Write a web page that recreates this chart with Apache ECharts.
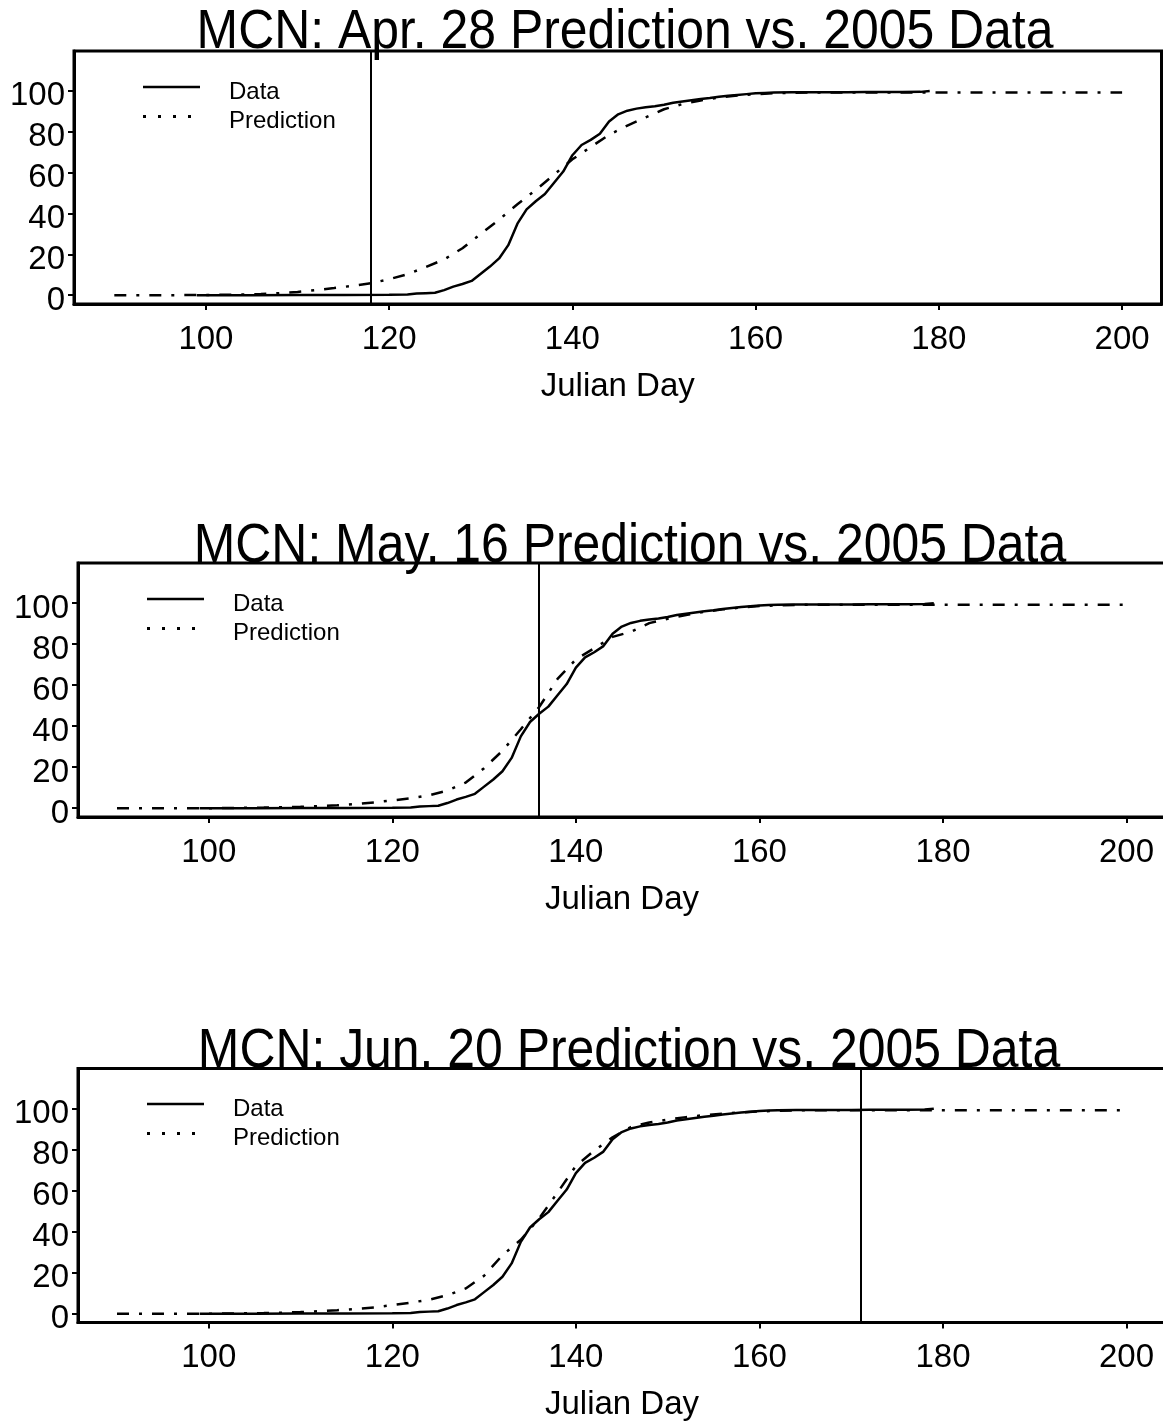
<!DOCTYPE html>
<html>
<head>
<meta charset="utf-8">
<title>MCN predictions vs. 2005 data</title>
<script src="https://cdn.jsdelivr.net/npm/echarts@6/dist/echarts.min.js"></script>
<style>
  html, body { margin: 0; padding: 0; background: #fff; }
  #chart { width: 1163px; height: 1424px; }
</style>
</head>
<body>
<div id="chart"></div>
<script>
// observed 2005 cumulative passage (%), same curve in every panel
const dataDays = [99, 100, 105, 110, 115, 120, 122, 123, 124, 125, 126, 127, 128, 129, 130,
  131, 132, 133, 134, 135, 136, 137, 138, 139, 140, 141, 142, 143, 144, 145, 146, 147, 148,
  149, 150, 151, 152, 153, 154, 155, 156, 157, 158, 159, 160, 161, 162, 164, 166, 168, 170,
  172, 174, 176, 178, 179];
const dataPct = [0, 0, 0, 0.1, 0.1, 0.2, 0.3, 0.8, 1, 1.2, 2.5, 4.2, 5.5, 7, 10.5,
  14, 18, 24.5, 35, 42, 46, 49.5, 55, 60.5, 68.5, 73.5, 76, 79, 85, 88.5, 90.3, 91.3, 92,
  92.5, 93.2, 94.2, 94.8, 95.4, 96, 96.5, 97.1, 97.6, 98, 98.4, 98.8, 99, 99.2, 99.3, 99.3, 99.3, 99.3,
  99.4, 99.4, 99.4, 99.5, 99.9];

// predictions (%), one per forecast date
const predDays = [90, 95, 100, 104, 106, 108, 110, 112, 114, 116, 118, 120, 122, 124, 126,
  128, 130, 132, 134, 136, 138, 140, 142, 144, 146, 148, 150, 152, 154, 156, 158, 160, 162,
  164, 166, 170, 180, 190, 200];
const predApr28 = [0, 0, 0.1, 0.3, 0.6, 1, 1.6, 2.5, 3.5, 4.6, 5.9, 7.8, 10.3, 13.8, 17.5,
  23, 30, 37, 44.5, 51.5, 59, 66.5, 72.5, 78.5, 83, 87, 91, 93.5, 95.3, 96.7, 97.7, 98.4, 98.8,
  99, 99.2, 99.2, 99.2, 99.2, 99.2];
const predMay16 = [0, 0, 0, 0.2, 0.3, 0.5, 0.7, 1, 1.4, 2, 2.8, 3.8, 4.8, 6.3, 8.6,
  12.5, 19.5, 28, 38.5, 49.3, 63, 72.5, 78, 83.5, 86, 90.2, 92.3, 94.2, 95.7, 96.9, 97.8, 98.5, 98.9,
  99.1, 99.2, 99.2, 99.2, 99.2, 99.2];
const predJun20 = [0, 0, 0, 0.2, 0.3, 0.5, 0.8, 1.2, 1.7, 2.3, 3, 4.2, 5.4, 6.8, 9,
  12.3, 18.5, 28.5, 36, 46.5, 59, 72, 79.5, 86, 91, 93.2, 94.6, 95.8, 96.8, 97.5, 98.1, 98.6, 98.9,
  99.1, 99.2, 99.2, 99.2, 99.2, 99.2];

const panelTitles = [
  'MCN: Apr. 28 Prediction vs. 2005 Data',
  'MCN: May. 16 Prediction vs. 2005 Data',
  'MCN: Jun. 20 Prediction vs. 2005 Data'
];
const cutoffDays = [118, 136, 171];
const predictions = [predApr28, predMay16, predJun20];
const xTicks = [100, 120, 140, 160, 180, 200];
const yTicks = [0, 20, 40, 60, 80, 100];

const FONT = "'Liberation Sans', Arial, sans-serif";
const BLACK = '#000';

// legend icons: short bar / four dots in the upper part of the icon box, so the text sits a bit lower
const CORNERS = 'M0,0h0.01v0.01h-0.01zM56.99,13.99h0.01v0.01h-0.01z';
const ICON_SOLID = 'path://M0,0.75h57v2.5h-57z' + CORNERS;
const ICON_DOTS = 'path://M0,0.5h3v3h-3zM15,0.5h3v3h-3zM30,0.5h3v3h-3zM45,0.5h3v3h-3z' + CORNERS;

// page layout for each panel (px)
const layout = [
  { grid: { left: 74, top: 51, width: 1087.5, height: 253 }, xMin: 85.6, titleX: 625, titleY: 33, legendLeft: 143, legendTop: 80 },
  { grid: { left: 78, top: 563, width: 1088, height: 254 }, xMin: 85.75, titleX: 630, titleY: 547, legendLeft: 147, legendTop: 592 },
  { grid: { left: 78, top: 1068.5, width: 1088, height: 254 }, xMin: 85.75, titleX: 629, titleY: 1051.5, legendLeft: 147, legendTop: 1097 }
];

const dataPairs = dataDays.map((d, i) => [d, dataPct[i]]);

const option = {
  animation: false,
  backgroundColor: '#fff',
  grid: layout.map(l => Object.assign({
    show: true, borderColor: BLACK, borderWidth: 3, outerBoundsMode: 'none'
  }, l.grid)),
  xAxis: layout.map((l, i) => ({
    type: 'value', gridIndex: i, min: l.xMin, max: 204.3,
    axisLine: { show: true, onZero: false, lineStyle: { color: BLACK, width: 3 } },
    axisTick: { show: true, customValues: xTicks, length: 6, lineStyle: { color: BLACK, width: 2 } },
    axisLabel: { customValues: xTicks, color: BLACK, fontSize: 33, fontFamily: FONT, margin: 19 },
    splitLine: { show: false },
    name: 'Julian Day', nameLocation: 'middle', nameGap: 66,
    nameTextStyle: { color: BLACK, fontSize: 33, fontFamily: FONT }
  })),
  yAxis: layout.map((l, i) => ({
    type: 'value', gridIndex: i, min: -4.3, max: 119.5,
    axisLine: { show: true, onZero: false, lineStyle: { color: BLACK, width: 3 } },
    axisTick: { show: true, customValues: yTicks, length: 6, lineStyle: { color: BLACK, width: 2 } },
    axisLabel: {
      customValues: yTicks, color: BLACK, fontSize: 33, fontFamily: FONT, margin: 9,
      verticalAlign: 'top', lineHeight: 11
    },
    splitLine: { show: false }
  })),
  legend: layout.map(l => ({
    orient: 'vertical', left: l.legendLeft, top: l.legendTop, padding: 0,
    itemWidth: 57, itemHeight: 14, itemGap: 5.5, selectedMode: false,
    textStyle: { color: BLACK, fontSize: 24, fontFamily: FONT, padding: [0, 0, 0, 24] },
    data: [
      { name: 'Data', icon: ICON_SOLID },
      { name: 'Prediction', icon: ICON_DOTS }
    ]
  })),
  graphic: layout.map((l, i) => ({
    type: 'text', x: l.titleX, y: l.titleY, scaleX: 0.907, z: 100,
    style: {
      text: panelTitles[i], font: '55px ' + FONT, fill: BLACK,
      align: 'center', verticalAlign: 'middle', textAlign: 'center', textVerticalAlign: 'middle'
    }
  })),
  series: []
};

predictions.forEach((pred, i) => {
  option.series.push({
    name: 'Data', type: 'line', xAxisIndex: i, yAxisIndex: i,
    data: dataPairs, symbol: 'none', showSymbol: false, z: 3,
    itemStyle: { color: BLACK },
    lineStyle: { color: BLACK, width: 2.5 }
  });
  option.series.push({
    name: 'Prediction', type: 'line', xAxisIndex: i, yAxisIndex: i,
    data: predDays.map((d, k) => [d, pred[k]]), symbol: 'none', showSymbol: false, z: 2,
    itemStyle: { color: BLACK },
    lineStyle: { color: BLACK, width: 2.5, type: [12, 10, 3, 10] },
    markLine: {
      silent: true, symbol: ['none', 'none'], animation: false,
      label: { show: false },
      lineStyle: { color: BLACK, width: 2, type: 'solid' },
      data: [{ xAxis: cutoffDays[i] }]
    }
  });
});

const chart = echarts.init(document.getElementById('chart'), null, { renderer: 'canvas' });
chart.setOption(option);
</script>
</body>
</html>
